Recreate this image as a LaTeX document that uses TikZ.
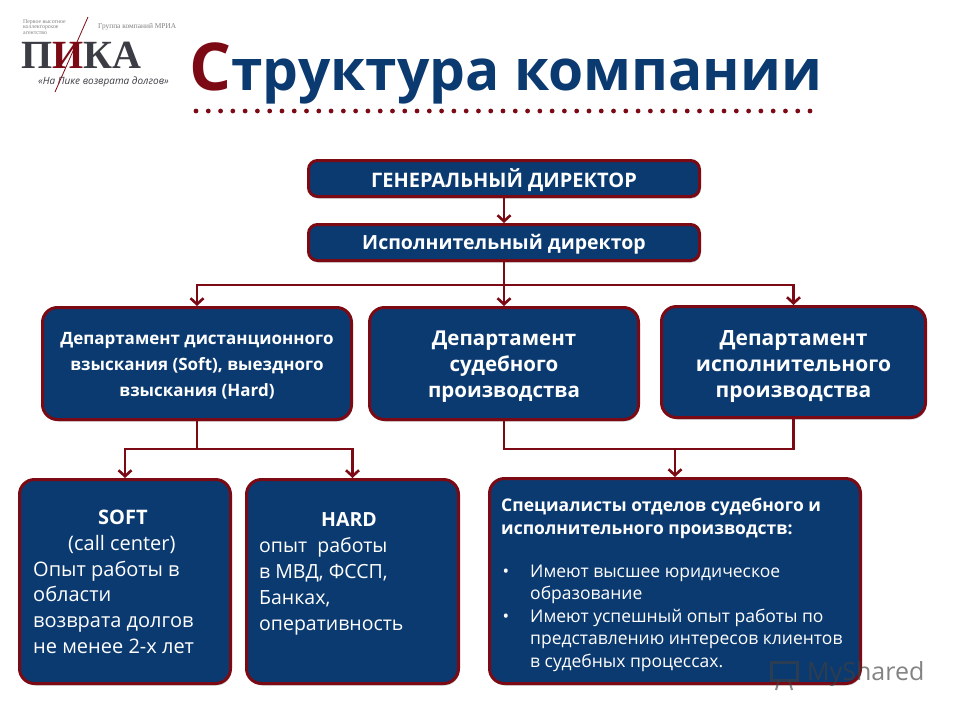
\documentclass[tikz,border=0pt]{standalone}
\usepackage{fontspec}
\setmainfont{Open Sans}
\newfontfamily\logofont{Liberation Serif}
\usetikzlibrary{arrows.meta,shadows}
\definecolor{navy}{HTML}{0B3A70}
\definecolor{wine}{HTML}{7B0A14}
\definecolor{logogrey}{HTML}{3C3C44}
\tikzset{
  box/.style={draw=wine,fill=navy,line width=3pt,rounded corners=9pt,text=white,align=center,
    drop shadow={opacity=.45,shadow xshift=1pt,shadow yshift=-2pt}},
  bigbox/.style={box,rounded corners=15pt},
  conn/.style={draw=wine,line width=2.8pt,-{Straight Barb[length=6pt,width=13pt,line width=2.6pt]}},
  plain/.style={draw=wine,line width=2.8pt},
}
\newcommand{\itemline}[1]{\hspace*{29pt}\llap{•\hspace{21pt}}#1}
\newcommand{\lineup}[1]{\rule{0pt}{#1pt}}
\begin{document}
\begin{tikzpicture}[x=1pt,y=-1pt]
\useasboundingbox (0,0) rectangle (960,720);
% logo
\node[anchor=west,inner sep=0pt,font=\logofont\fontsize{5.8}{5.5}\selectfont,text=gray,align=left] (logosmall) at (23,27) {Первое высотное\\коллекторское\\агентство};
\node[anchor=west,inner sep=0pt,font=\logofont\fontsize{7.4}{7}\selectfont,text=gray] (logogroup) at (98,27) {Группа компаний МРИА};
\node[anchor=west,inner sep=0pt,font=\logofont\bfseries\fontsize{40}{40}\selectfont,text=logogrey] (logo) at (21,55) {П{\color{wine}И}КА};
\node[anchor=west,inner sep=0pt,font=\itshape\fontsize{10}{10}\selectfont,text=logogrey] (slogan) at (38,82) {«На Пике возврата долгов»};
\draw[wine,line width=.8pt] (88,17) -- (55,92);
% title
\node[anchor=west,inner sep=0pt,font=\bfseries\fontsize{56.8}{58}\selectfont,text=navy] (title) at (189,73) {{\color{wine}\fontsize{66}{66}\selectfont С}труктура компании};
\foreach \i in {0,...,50}
  \fill[wine] (196+12.28*\i,111) circle (2.4pt);
% boxes
\node[box,minimum width=391pt,minimum height=36pt,font=\bfseries\fontsize{20}{22}\selectfont] (gd) at (504,178.5) {\lineup{22}ГЕНЕРАЛЬНЫЙ ДИРЕКТОР};
\node[box,minimum width=391pt,minimum height=36pt,font=\bfseries\fontsize{19.5}{22}\selectfont] (id) at (504,242.5) {\lineup{19}Исполнительный директор};
\node[bigbox,minimum width=309pt,minimum height=112pt,font=\bfseries\fontsize{17}{26}\selectfont] (d1) at (197,363.5) {\lineup{17}Департамент дистанционного\\взыскания (Soft), выездного\\взыскания (Hard)};
\node[bigbox,minimum width=269pt,minimum height=112pt,font=\bfseries\fontsize{20.5}{26}\selectfont] (d2) at (504,363.5) {\lineup{21}Департамент\\судебного\\производства};
\node[bigbox,minimum width=264pt,minimum height=111pt,font=\bfseries\fontsize{21}{26}\selectfont] (d3) at (793.5,362) {\lineup{25}Департамент\\исполнительного\\производства};
\node[bigbox,minimum width=211pt,minimum height=204pt] (soft) at (125,581.5) {};
\node[bigbox,minimum width=212pt,minimum height=204pt] (hard) at (352.5,581.5) {};
\node[bigbox,minimum width=371pt,minimum height=205pt] (spec) at (675,581) {};
% box texts
\node[anchor=north west,inner sep=0pt,text=white,align=left,font=\fontsize{20}{25.7}\selectfont] (softtxt) at (33,510) {\hspace*{65pt}\textbf{SOFT}\\\hspace*{35pt}(call center)\\Опыт работы в\\области\\возврата долгов\\не менее 2-х лет};
\node[anchor=north west,inner sep=0pt,text=white,align=left,font=\fontsize{19.5}{26}\selectfont] (hardtxt) at (259,512) {\hspace*{62pt}\textbf{HARD}\\опыт\ \ работы\\в МВД, ФССП,\\Банках,\\оперативность};
\node[anchor=north west,inner sep=0pt,text=white,align=left,font=\fontsize{17.5}{22.5}\selectfont] (spectxt) at (501,498) {\textbf{Специалисты отделов судебного и}\\\textbf{исполнительного производств:}\\[20.5pt]\itemline{Имеют высшее юридическое}\\\hspace*{29pt}образование\\\itemline{Имеют успешный опыт работы по}\\\hspace*{29pt}представлению интересов клиентов\\\hspace*{29pt}в судебных процессах.};
% connectors
\coordinate (bustop) at (504,285);
\coordinate (busleft) at (197,449);
\coordinate (busright) at (675,449);
\draw[conn] (gd.south) -- (id.north);
\draw[conn] (id.south) -- (d2.north);
\draw[conn] (bustop) -| (d1.north);
\draw[conn] (bustop) -| (d3.north);
\draw[plain] (d1.south) -- (busleft);
\draw[conn] (busleft) -| (soft.north);
\draw[conn] (busleft) -| (hard.north);
\draw[plain] (d2.south) |- (busright);
\draw[plain] (d3.south) |- (busright);
\draw[conn] (busright) -- (spec.north);
% watermark
\node[anchor=west,inner sep=0pt,opacity=.65,text=darkgray,font=\fontsize{25}{25}\selectfont] (mark) at (807,674) {MyShared};
\draw[darkgray,opacity=.6,line width=3pt] (771,662) rectangle (797,680);
\draw[darkgray,opacity=.6,line width=2pt] (779,680) -- (776,690) (789,680) -- (792,690);
\end{tikzpicture}
\end{document}
